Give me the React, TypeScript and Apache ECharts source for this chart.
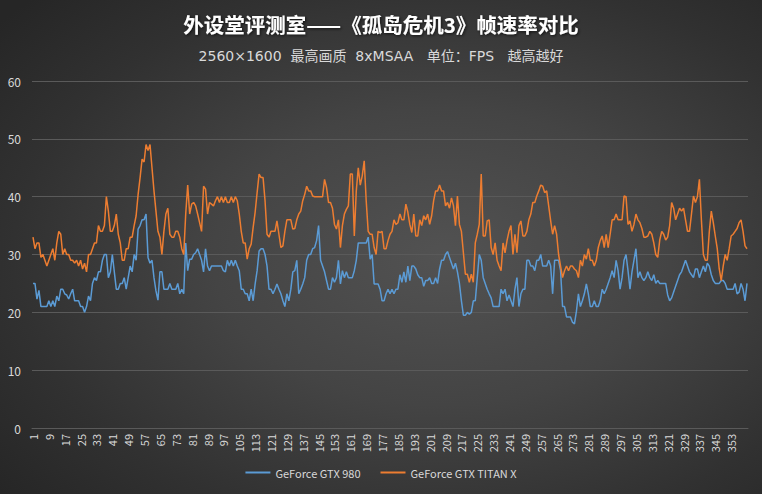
import React, { useEffect, useRef } from "react";
import * as echarts from "echarts";

const titleText = "外设堂评测室——《孤岛危机3》帧速率对比";
const subtitleText = "2560×1600  最高画质  8xMSAA   单位：FPS   越高越好";
const seriesNames = ["GeForce GTX 980", "GeForce GTX TITAN X"];
const yTicks = { min: 0, max: 60, interval: 10 };

const gtx980: number[] = [
  25, 25, 22.3, 23.8, 21, 21, 21, 21, 22, 21,
  22, 21, 22.8, 22, 24, 24, 23.2, 23, 22.3, 23.2,
  24, 22, 22, 22, 21, 21, 20, 21, 22.8, 22,
  25, 26, 25.5, 27, 27, 29, 30, 30, 26, 27,
  30, 27, 24, 24, 25, 25, 26, 24, 26, 28,
  27, 30, 29, 34.4, 35, 36, 36, 37, 29.5, 28.5,
  29, 26, 23.7, 22.1, 27, 27, 24, 24, 24, 25,
  24, 24, 24, 25, 23.2, 24, 23.2, 32, 27.2, 29.2,
  29.2, 30, 30.3, 31, 30, 29, 27, 31, 28, 27.2,
  28, 28, 28, 28, 28, 28, 27.2, 27, 29, 28,
  29, 28, 29, 28, 27.2, 24, 24, 23.2, 23.2, 22,
  24, 22, 24.9, 27.2, 30.6, 31, 31, 30, 28, 24,
  24, 23.2, 24, 24.9, 24, 23.2, 22, 21, 23.2, 22,
  24, 27, 27.2, 29, 23.2, 24, 24.9, 26, 29, 30,
  30, 31, 31.2, 32.4, 35, 29, 28, 27, 25.5, 24,
  24, 26, 25.2, 26, 29, 24.9, 27.2, 26, 27, 26,
  26, 26, 27.2, 29, 32, 32, 32, 32, 32, 33,
  29.2, 30, 24.9, 24.9, 24.9, 24, 22, 22, 23.2, 24,
  23.2, 24, 23.2, 24, 24, 26.5, 25.2, 27, 25.2, 28,
  25.5, 28, 28, 27.5, 26.5, 26, 26, 24.5, 25.5, 25.5,
  26, 25, 25, 26, 25, 27.5, 29, 29, 30, 30.5,
  29.5, 28.5, 27.5, 28.5, 27, 25, 22, 19.5, 19.5, 20,
  19.7, 20, 22, 22, 26, 30, 29, 26, 25, 24,
  23.2, 22.5, 21, 21, 21, 21, 24, 23.2, 24, 22,
  23, 22, 21, 24, 26, 21, 23.2, 24, 24, 29,
  29, 28, 28, 27.2, 29, 29, 30, 28, 28, 28,
  29, 28, 23.2, 29, 29, 29, 27.2, 21, 21, 19.2,
  19.2, 19.2, 18.3, 18, 20.2, 23.2, 21, 22, 23.2, 24.9,
  23.2, 21, 21, 22, 21, 21, 22, 24, 23.2, 24,
  25, 26, 27.2, 26, 29, 27.2, 24, 26, 29, 30,
  27.2, 24, 27, 29, 31, 26, 27, 26, 25.5, 26,
  27, 26, 25.5, 26.5, 25, 25.5, 25, 25, 25, 25,
  23, 22, 22.5, 23.5, 24.5, 25.5, 26.5, 27, 28, 29,
  28, 27, 26.5, 26, 27.5, 27.5, 26, 27, 28, 27,
  28.5, 28, 26.5, 25.5, 25, 25, 25, 25.5, 25.5, 25,
  24, 24, 24, 24, 25, 23.2, 23.5, 25, 24, 22, 25,
];

const titanX: number[] = [
  33, 31, 32, 32, 29.5, 30, 29, 28, 29, 30,
  31, 29, 32, 34, 33.5, 30, 31, 30, 30, 29,
  29, 28.5, 29, 28, 29, 27.5, 28.5, 27, 30, 30,
  31, 32, 32, 35, 34, 34, 35, 40, 37.5, 34,
  34, 35, 37, 33.5, 32, 29, 29, 31, 31, 33,
  33, 35, 36.7, 40.4, 43.3, 46.5, 46, 49, 48, 49,
  45, 41, 37.5, 34, 33, 30, 34, 37, 38, 33.5,
  33, 33, 34, 34, 33, 31, 30, 37, 42, 37,
  38.7, 39, 38.4, 37, 35.5, 34, 41.8, 41.3, 37, 39,
  38.7, 38.4, 39.3, 40, 39, 40, 39, 40, 39, 39,
  40, 39, 40, 39.3, 37, 34, 32, 32, 29.2, 31,
  31.8, 34.7, 37.3, 40.7, 43.9, 43.3, 43.3, 39.3, 33.5, 33,
  34, 34, 34, 35.8, 33.5, 31.2, 31.5, 34, 36, 36,
  36, 34.4, 34.5, 36, 37, 37.5, 39.3, 40.4, 41.8, 41,
  41, 40.1, 40, 40, 40, 40, 40, 43, 41.6, 39,
  39, 38, 35.2, 34.4, 36, 31.2, 35, 37, 37.8, 38.4,
  43.9, 43.9, 33.2, 41, 45, 42, 43.6, 46.2, 39.3, 34,
  33.5, 33.5, 31.2, 30, 34, 33.8, 34, 31, 31, 32.4,
  33.5, 34, 36, 35.2, 35.5, 37, 36, 36, 38.7, 37.3,
  35.2, 33.8, 37, 33.2, 33.2, 36, 35, 36.7, 36, 37,
  35.2, 36.7, 39.3, 41, 41, 42, 41, 41, 38.4, 39,
  38, 39.8, 38.4, 35, 40.1, 35.2, 34, 30.3, 26.6, 26.6,
  25.2, 26.6, 25.2, 32, 33.5, 35.2, 43.9, 33.2, 33.2, 35.8,
  36, 31.2, 30, 32, 29, 28, 27.2, 32, 30.3, 32.4,
  34, 35, 30, 33.5, 30.3, 35, 35.8, 33.2, 33.2, 34,
  36, 37, 39, 39, 40.1, 41, 42, 41.8, 40.7, 41,
  38.4, 35.8, 33.5, 35, 33.5, 30, 28, 26, 27.2, 28,
  27.2, 28, 28, 27.5, 27.2, 26, 29, 28, 30, 29.2,
  31, 29, 29, 28, 29, 31.2, 32.4, 33.2, 31.2, 33.5,
  31.2, 33.5, 36, 36, 37, 36, 36, 36, 40.1, 40,
  35.2, 35.8, 34, 35.2, 37, 36, 35.5, 34.5, 33, 33,
  33.2, 34, 33.5, 32, 30, 29.5, 32.5, 34, 33.5, 32.5,
  33, 35, 39, 38, 36, 37, 38, 37.5, 38, 36,
  34, 34, 37, 40.1, 39, 40, 43, 36, 30, 29,
  29, 34, 37.5, 35.5, 33.2, 31, 27.5, 25.5, 28, 30,
  29, 31, 33.2, 33.5, 34, 34.5, 35.5, 36, 34, 31.5, 31,
];

const frames: string[] = gtx980.map((_, i) => String(i + 1));
const labelStep = 8;

const colors = ["#5b9bd5", "#ed7d31"];
const textColor = "#d9d9d9";
const gridColor = "#5a5a5a";
const font = "'Noto Sans CJK SC', 'Noto Sans', sans-serif";
const latinFont = "'DejaVu Sans', 'Noto Sans CJK SC', sans-serif";

export default function App() {
  const ref = useRef<HTMLDivElement>(null);

  useEffect(() => {
    if (!ref.current) return;
    const chart = echarts.init(ref.current, undefined, { renderer: "svg" });
    chart.setOption({
      animation: false,
      backgroundColor: "transparent",
      textStyle: { fontFamily: font },
      title: [
        {
          text: titleText,
          left: "center",
          top: 9,
          textStyle: {
            color: "#ffffff",
            fontSize: 20.5,
            fontWeight: "bold",
            fontFamily: font,
            textShadowColor: "rgba(0,0,0,0.7)",
            textShadowBlur: 3,
            textShadowOffsetX: 1,
            textShadowOffsetY: 1,
          },
        },
        {
          text: subtitleText,
          left: "center",
          top: 44,
          textStyle: {
            color: textColor,
            fontSize: 14,
            fontWeight: "normal",
            fontFamily: latinFont,
          },
        },
      ],
      legend: {
        bottom: 11,
        left: "center",
        icon: "rect",
        itemWidth: 25,
        itemHeight: 2,
        itemGap: 20,
        textStyle: { color: textColor, fontSize: 11, fontFamily: font },
        data: seriesNames,
      },
      grid: { left: 32, right: 14, top: 81, bottom: 66, containLabel: false },
      xAxis: {
        type: "category",
        data: frames,
        boundaryGap: true,
        axisLine: { show: true, lineStyle: { color: gridColor, width: 1 } },
        axisTick: { show: false },
        axisLabel: {
          interval: (idx: number) => idx % labelStep === 0 && idx < frames.length - 1,
          rotate: 90,
          color: textColor,
          fontSize: 11,
          margin: 6,
          fontFamily: font,
        },
        splitLine: { show: false },
      },
      yAxis: {
        type: "value",
        min: yTicks.min,
        max: yTicks.max,
        interval: yTicks.interval,
        axisLine: { show: false },
        axisTick: { show: false },
        axisLabel: { color: textColor, fontSize: 12, margin: 11, fontFamily: font },
        splitLine: { show: true, lineStyle: { color: gridColor, width: 1 } },
      },
      series: [
        {
          name: seriesNames[0],
          type: "line",
          data: gtx980,
          symbol: "none",
          color: colors[0],
          lineStyle: { width: 1.5, color: colors[0] },
        },
        {
          name: seriesNames[1],
          type: "line",
          data: titanX,
          symbol: "none",
          color: colors[1],
          lineStyle: { width: 1.5, color: colors[1] },
        },
      ],
    });
    return () => chart.dispose();
  }, []);

  return (
    <div
      style={{
        position: "absolute",
        left: 0,
        top: 0,
        width: 762,
        height: 494,
        background:
          "radial-gradient(ellipse 75% 75% at 58% 52%, #525252 0%, #444444 40%, #313131 75%, #262626 100%)",
      }}
    >
      <div ref={ref} style={{ width: 762, height: 494 }} />
    </div>
  );
}
